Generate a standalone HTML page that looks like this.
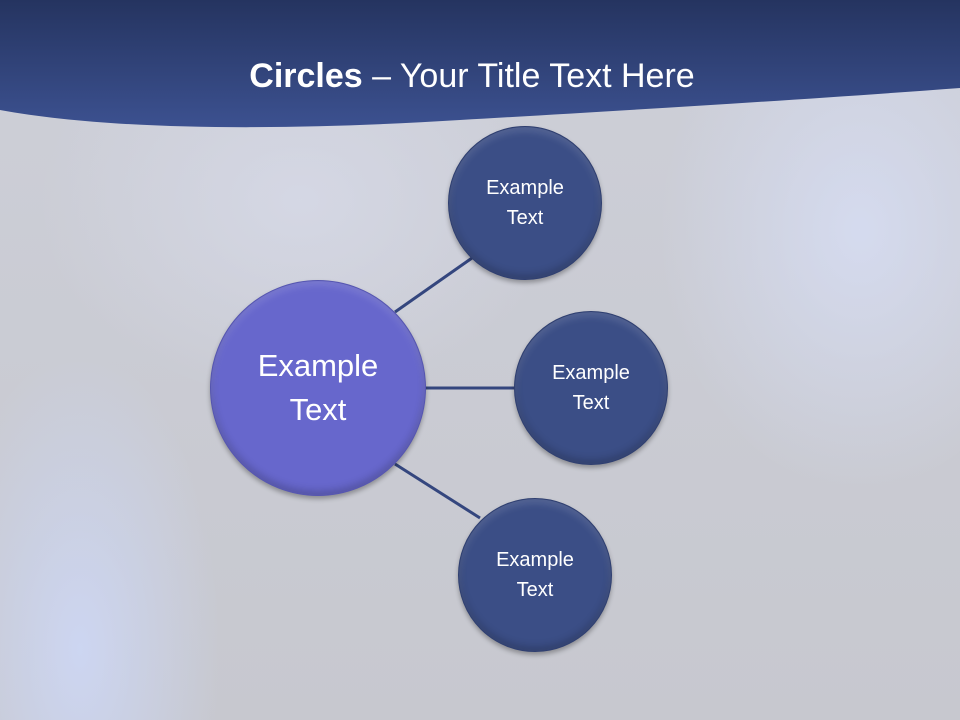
<!DOCTYPE html>
<html><head><meta charset="utf-8"><style>
body{margin:0;width:960px;height:720px;overflow:hidden;font-family:"Liberation Sans",Calibri,sans-serif;}
.bg{position:absolute;left:0;top:0;width:960px;height:720px;background:
radial-gradient(ellipse 140px 300px at 80px 650px,rgba(205,215,245,0.9),rgba(205,215,245,0) 100%),
radial-gradient(ellipse 200px 260px at 860px 230px,rgba(215,222,245,0.8),rgba(215,222,245,0) 100%),
radial-gradient(ellipse 260px 200px at 300px 200px,rgba(215,218,232,0.8),rgba(215,218,232,0)),
linear-gradient(180deg,#cdcfd8,#c7c8cf);}
.c{position:absolute;border-radius:50%;color:#fff;display:flex;align-items:center;justify-content:center;text-align:center;box-shadow:0 3px 5px rgba(0,0,0,0.3), inset 0 -4px 8px rgba(0,0,0,0.2), inset 0 4px 8px rgba(255,255,255,0.15);}
.s{width:154px;height:154px;background:#3b4e86;font-size:20px;line-height:30px;border:1px solid #2f3f70;box-sizing:border-box;}
.b{width:216px;height:216px;background:#6767cc;font-size:31px;line-height:44px;border:1px solid #5555b0;box-sizing:border-box;}
</style></head><body>
<div class="bg"></div>
<svg style="position:absolute;left:0;top:0" width="960" height="720">
<defs><linearGradient id="h" x1="0" y1="0" x2="0" y2="1"><stop offset="0" stop-color="#253460"/><stop offset="1" stop-color="#3c5190"/></linearGradient></defs>
<path d="M0 0H960V88C800 100 600 112 460 120C300 130 120 132 0 110Z" fill="url(#h)"/>
<line x1="395" y1="312" x2="472" y2="258" stroke="#34467e" stroke-width="3"/>
<line x1="426" y1="388" x2="514" y2="388" stroke="#34467e" stroke-width="3"/>
<line x1="395" y1="464" x2="480" y2="518" stroke="#34467e" stroke-width="3"/>
<text x="472" y="87" fill="#fff" font-size="34" text-anchor="middle" font-family="Liberation Sans, sans-serif"><tspan font-weight="bold">Circles</tspan> – Your Title Text Here</text>
</svg>
<div class="c b" style="left:210px;top:280px">Example<br>Text</div>
<div class="c s" style="left:448px;top:126px">Example<br>Text</div>
<div class="c s" style="left:514px;top:311px">Example<br>Text</div>
<div class="c s" style="left:458px;top:498px">Example<br>Text</div>
</body></html>
